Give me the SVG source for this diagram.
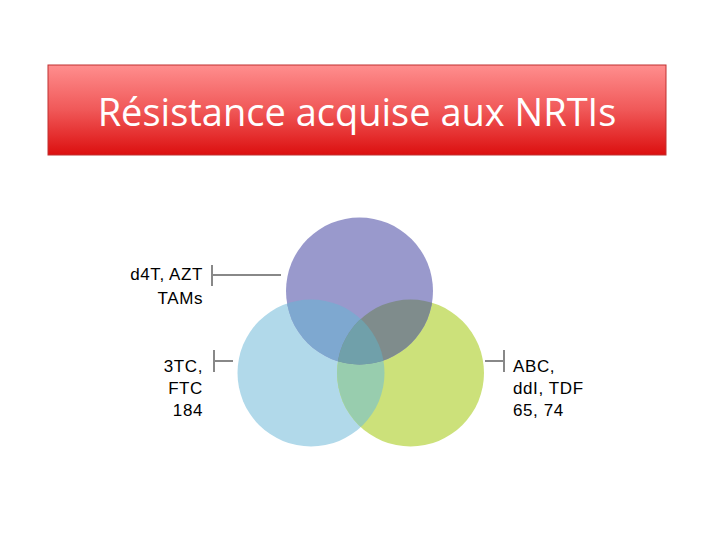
<svg xmlns="http://www.w3.org/2000/svg" width="720" height="540" viewBox="0 0 720 540">
<defs>
<linearGradient id="g" x1="0" y1="0" x2="0" y2="1"><stop offset="0" stop-color="#ff8e8e"/><stop offset="0.5" stop-color="#f05858"/><stop offset="1" stop-color="#dc0f0f"/></linearGradient>
<clipPath id="cp"><circle cx="359.5" cy="291" r="73.5"/></clipPath>
<clipPath id="cb"><circle cx="311" cy="373" r="73.5"/></clipPath>
<style>.t{font-family:"Liberation Sans",Arial,sans-serif;font-size:17px;letter-spacing:0.6px;fill:#000}.l{stroke:#888;stroke-width:2;fill:none}</style>
</defs>
<rect width="720" height="540" fill="#fff"/>
<g id="title"><rect x="48" y="65" width="618" height="90" fill="url(#g)" stroke="#c03030" stroke-width="1"/>
<text x="357" y="126" text-anchor="middle" font-family="'Open Sans',sans-serif" font-size="38" fill="#fff">Résistance acquise aux NRTIs</text></g>
<g id="venn">
<circle cx="311" cy="373" r="73.5" fill="#b1d9ea"/>
<circle cx="410.5" cy="373" r="73.5" fill="#cce17a"/>
<circle cx="359.5" cy="291" r="73.5" fill="#9999cc"/>
<circle cx="410.5" cy="373" r="73.5" fill="#98cdae" clip-path="url(#cb)"/>
<circle cx="311" cy="373" r="73.5" fill="#7ea8d0" clip-path="url(#cp)"/>
<circle cx="410.5" cy="373" r="73.5" fill="#7f8c8c" clip-path="url(#cp)"/>
<g clip-path="url(#cp)"><circle cx="410.5" cy="373" r="73.5" fill="#70a0aa" clip-path="url(#cb)"/></g>
</g>
<g id="connectors">
<path class="l" d="M212 265V286M212 275H281"/>
<path class="l" d="M214 350V372M214 361H233"/>
<path class="l" d="M504 350V372M485 361H504"/>
</g>
<g id="label-left1"><text class="t" x="203" y="280" text-anchor="end">d4T, AZT</text><text class="t" x="203" y="304" text-anchor="end">TAMs</text></g>
<g id="label-left2"><text class="t" x="203" y="372" text-anchor="end">3TC,</text><text class="t" x="203" y="394" text-anchor="end">FTC</text><text class="t" x="203" y="416" text-anchor="end">184</text></g>
<g id="label-right"><text class="t" x="513" y="372">ABC,</text><text class="t" x="513" y="394">ddI, TDF</text><text class="t" x="513" y="416">65, 74</text></g>
</svg>
